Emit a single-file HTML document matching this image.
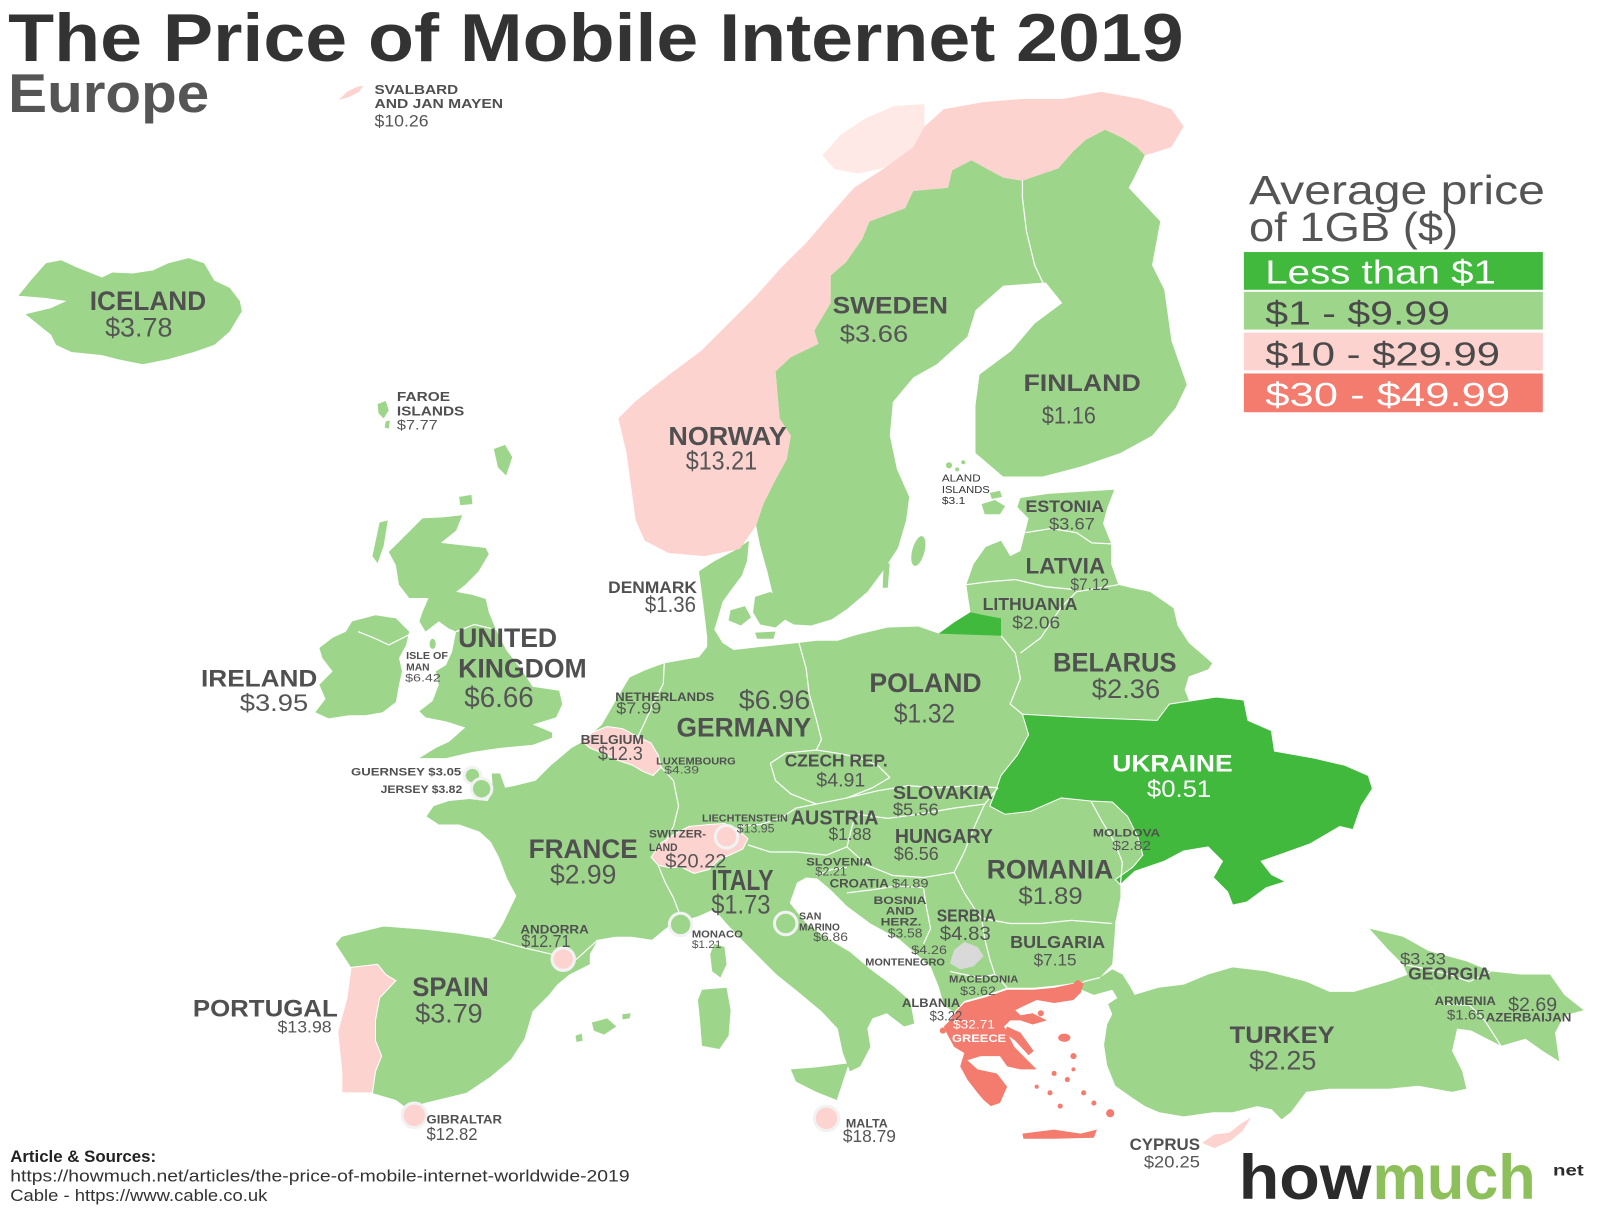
<!DOCTYPE html>
<html><head><meta charset="utf-8"><style>
html,body{margin:0;padding:0;background:#fff;}
svg{display:block;}
text{font-family:"Liberation Sans",Arial,sans-serif;}
.n{font-weight:bold;fill:#505050;}
.v{font-weight:normal;fill:#555;}
.w{fill:#fff;}
</style></head><body>
<svg width="1600" height="1209" viewBox="0 0 1600 1209" xmlns="http://www.w3.org/2000/svg">
<rect width="1600" height="1209" fill="#fff"/>
<g transform="scale(1.0204)">
<g fill="#9dd68b">
<!-- Iceland -->
<polygon points="18,290 30,275 45,258 60,255 75,262 100,272 110,267 130,268 150,265 165,258 185,253 200,258 210,275 225,282 235,295 237,305 225,325 210,338 190,345 165,352 140,357 115,352 100,348 70,345 55,338 50,328 30,312 25,308 50,302 65,295 45,292 20,290"/>
<!-- Faroe -->
<polygon points="370,396 378,393 381,402 376,410 371,405"/>
<polygon points="378,413 382,412 381,420 377,419"/>
<!-- Great Britain -->
<polygon points="414,508 434,507 453,505 447,520 432,532 476,537 479,543 469,560 456,573 447,580 463,583 476,587 479,600 486,617 496,637 510,655 522,673 548,677 551,690 545,703 522,710 541,718 541,723 522,730 489,733 463,737 437,743 411,743 427,733 440,727 456,713 437,707 417,703 411,697 424,687 430,671 427,658 437,652 443,639 447,619 440,616 430,609 417,619 411,609 414,600 420,586 401,586 391,573 388,554 381,541 391,531 404,518"/>
<polygon points="365,545 372,512 380,510 376,535 370,552"/>
<polygon points="450,487 462,485 463,494 451,495"/>
<polygon points="484,440 495,436 502,448 496,466 488,458"/>
<ellipse cx="424" cy="631" rx="3" ry="5"/>
<!-- Ireland -->
<polygon points="345,609 368,603 388,606 401,619 398,632 391,645 394,658 391,671 388,688 375,698 358,701 342,701 322,704 309,698 319,685 313,671 326,658 316,645 313,635 326,625 339,619"/>
<!-- Sweden -->
<polygon points="952,157 983,174 1002,177 1002,194 1006,227 1014,260 1022,277 983,280 956,304 948,330 918,357 895,370 875,394 872,427 879,460 891,487 888,510 880,537 865,560 850,580 830,597 815,607 795,613 778,612 765,605 758,585 752,560 745,535 741,515 748,494 760,470 771,450 775,427 764,410 760,364 775,350 802,337 798,324 814,297 814,270 829,257 845,234 852,217 887,204 895,187 929,184 933,167"/>
<ellipse cx="900" cy="540" rx="6" ry="15" transform="rotate(15 900 540)"/>
<polygon points="866,553 872,552 870,576 865,576"/>
<!-- Finland -->
<polygon points="1002,177 1037,165 1052,148 1064,137 1083,127 1100,135 1114,144 1122,152 1110,177 1106,184 1137,217 1129,260 1141,284 1148,334 1163,377 1152,400 1129,427 1098,444 1060,457 1022,467 983,467 956,444 956,397 960,367 991,344 1014,317 1041,297 1025,277 1022,277 1014,260 1006,227 1002,194"/>
<circle cx="930" cy="456" r="3"/><circle cx="938" cy="460" r="2"/><circle cx="944" cy="453" r="2"/>
<!-- Mainland -->
<polygon points="571,727 590,710 605,684 617,664 632,657 651,650 685,644 693,634 693,624 689,590 685,560 700,550 719,540 734,530 732,550 727,564 715,580 708,590 704,604 700,617 708,630 719,637 746,634 783,630 800,628 821,628 840,622 870,615 900,614 920,621 935,610 951,600 947,573 954,553 966,536 981,530 990,545 1000,540 1005,520 1008,508 997,497 1000,488 1027,484 1058,482 1092,480 1085,498 1081,513 1089,533 1089,553 1096,573 1108,576 1127,580 1150,596 1154,613 1165,630 1180,643 1188,650 1184,656 1165,663 1161,676 1165,686 1173,690 1192,683 1219,686 1223,706 1246,716 1249,736 1288,743 1318,750 1341,760 1345,773 1334,790 1326,813 1313,810 1284,827 1256,837 1236,844 1246,857 1260,864 1241,870 1222,884 1208,887 1203,874 1189,860 1198,844 1184,830 1160,834 1141,844 1112,854 1098,867 1098,880 1093,904 1092,921 1090,945 1078,958 1062,962 1033,966 1013,968 987,968 967,975 945,981 935,992 925,985 920,967 912,947 882,921 853,905 830,888 814,872 801,861 790,860 781,865 774,885 790,905 811,920 833,933 853,950 876,967 892,981 896,1003 886,1006 869,993 855,998 850,1008 853,1026 843,1045 833,1050 826,1032 821,1008 805,991 781,971 761,955 744,938 728,922 712,905 700,891 684,898 667,903 659,905 651,911 639,921 619,918 603,918 586,921 578,935 578,945 558,955 546,965 538,975 522,991 514,1018 501,1038 481,1055 457,1071 416,1081 400,1087 388,1078 364,1071 335,1071 335,1051 331,1011 340,978 344,948 329,925 335,918 376,908 416,911 450,915 481,920 485,918 493,905 506,878 497,861 489,840 481,825 470,815 450,808 430,808 418,800 425,790 440,785 460,783 478,785 483,775 482,758 490,758 495,772 505,770 525,765 540,750 552,740 560,733"/>
<!-- Danish islands -->
<polygon points="740,585 755,580 770,590 772,605 760,615 745,612 738,600"/>
<polygon points="716,598 730,594 736,605 726,613 714,608"/>
<polygon points="740,620 760,619 758,626 742,626"/>
<circle cx="812" cy="604" r="3"/>
<!-- Estonia islands -->
<polygon points="962,494 975,490 985,496 980,504 965,504"/>
<polygon points="970,483 980,481 982,487 972,489"/>
<!-- Med islands -->
<polygon points="700,925 710,928 712,945 706,958 698,952 696,935"/>
<polygon points="688,970 712,968 716,990 714,1015 705,1028 688,1025 686,1000 684,980"/>
<polygon points="775,1048 800,1046 832,1042 826,1060 820,1078 800,1070 780,1060"/>
<polygon points="580,1002 595,998 604,1006 592,1014 582,1010"/>
<polygon points="610,994 618,993 617,998 610,999"/>
<polygon points="564,1015 570,1013 571,1020 565,1021"/>
<!-- Turkey -->
<polygon points="1062,962 1078,958 1090,950 1100,955 1107,966 1112,975 1135,968 1160,965 1184,955 1208,948 1241,952 1280,962 1303,972 1327,972 1361,962 1380,955 1399,964 1413,984 1428,1008 1423,1030 1433,1050 1437,1067 1423,1070 1390,1064 1361,1067 1303,1067 1280,1070 1265,1090 1256,1097 1246,1087 1232,1084 1208,1090 1189,1090 1160,1094 1136,1090 1122,1084 1107,1074 1093,1064 1085,1044 1082,1024 1085,1004 1090,994 1086,984 1095,978 1090,970 1072,975 1060,970"/>
<!-- Caucasus -->
<polygon points="1342,910 1375,918 1400,932 1437,942 1461,952 1490,955 1519,955 1533,975 1552,990 1533,995 1524,1012 1528,1040 1512,1030 1495,1018 1471,1025 1442,1010 1428,1008 1413,984 1399,964 1380,957 1375,945 1360,930"/>
</g>
<!-- Norway -->
<polygon fill="#fdd3d0" points="623,510 614,444 606,410 622,394 656,367 687,344 714,317 741,290 764,264 791,237 814,210 837,184 868,164 895,144 906,124 925,107 964,100 1002,97 1041,97 1079,90 1118,97 1148,107 1160,124 1148,144 1130,150 1122,152 1114,144 1100,135 1083,127 1064,137 1052,148 1037,165 1002,177 983,174 952,157 933,167 929,184 895,187 887,204 852,217 845,234 829,257 814,270 814,297 798,324 802,337 775,350 760,364 764,410 775,427 771,450 760,470 748,494 741,515 725,538 690,545 655,542 632,530"/>
<polygon fill="#fdd3d0" opacity="0.5" points="806,152 824,132 848,116 876,104 906,102 906,124 895,144 868,164 842,170 818,166"/>
<polygon fill="#fdd3d0" points="332,98 340,90 350,85 356,84 352,90 342,95"/>
<!-- Portugal -->
<polygon fill="#fdd3d0" stroke="#fff" stroke-width="1" points="344,948 370,945 378,955 388,961 372,978 368,1000 368,1020 374,1035 368,1050 365,1071 335,1071 335,1051 331,1011 340,978"/>
<!-- Belgium -->
<polygon fill="#fdd3d0" stroke="#fff" stroke-width="1" points="571,727 580,718 595,712 610,714 625,722 638,728 645,740 648,752 640,760 630,756 620,750 605,745 590,738 578,733"/>
<!-- Switzerland -->
<polygon fill="#fdd3d0" stroke="#fff" stroke-width="1" points="638,840 648,826 660,818 675,810 695,808 710,807 722,812 733,822 728,832 715,838 705,842 695,852 680,856 668,850 655,850 645,848"/>
<!-- Cyprus -->
<polygon fill="#fdd3d0" points="1178,1120 1190,1112 1205,1110 1215,1102 1226,1095 1218,1108 1206,1118 1190,1125"/>
<!-- Greece -->
<g fill="#f47c6e">
<polygon points="945,983 967,977 987,970 1013,970 1033,968 1052,964 1056,960 1062,964 1059,973 1052,980 1033,983 1016,980 1003,986 995,990 1000,995 1012,993 1026,1000 1012,1004 1000,1000 990,1000 984,1006 994,1026 1007,1039 1016,1048 1000,1048 987,1045 980,1035 961,1035 948,1039 958,1048 977,1052 987,1065 980,1081 971,1084 964,1078 958,1071 948,1058 941,1045 945,1032 935,1026 928,1013 925,1006 931,1000 938,990"/>
<polygon points="1002,1111 1033,1107 1059,1111 1075,1107 1072,1115 1033,1116 1003,1116"/>
<polygon points="987,1006 1000,1012 1013,1030 1008,1034 995,1020 984,1012"/>
<ellipse cx="1043" cy="1017" rx="6" ry="4"/>
<circle cx="1020" cy="993" r="3"/><circle cx="1052" cy="1035" r="3"/><circle cx="1033" cy="1052" r="2.5"/>
<circle cx="1046" cy="1058" r="2.5"/><circle cx="1029" cy="1071" r="2.5"/><circle cx="1039" cy="1084" r="2.5"/>
<circle cx="1062" cy="1071" r="2.5"/><circle cx="1072" cy="1081" r="2.5"/><circle cx="1088" cy="1091" r="4"/>
<circle cx="1016" cy="1065" r="2"/><circle cx="1052" cy="1048" r="2"/><circle cx="924" cy="1010" r="3"/>
</g>
<!-- Ukraine -->
<polygon fill="#41b93c" stroke="#fff" stroke-width="1" points="1002,700 1058,703 1134,706 1146,690 1192,683 1219,686 1223,706 1246,716 1249,736 1288,743 1318,750 1341,760 1345,773 1334,790 1326,813 1313,810 1284,827 1256,837 1236,844 1246,857 1260,864 1241,870 1222,884 1208,887 1203,874 1189,860 1198,844 1184,830 1160,834 1141,844 1112,854 1098,867 1093,862 1110,850 1120,838 1115,820 1105,800 1090,786 1069,785 1040,782 1010,795 985,798 970,790 974,780 981,760 997,740 1008,720"/>
<!-- Kaliningrad -->
<polygon fill="#41b93c" points="920,621 935,610 951,600 965,603 981,606 981,623"/>
<!-- Kosovo -->
<polygon fill="#d9d9d9" points="935,931 945,923 958,928 964,937 954,947 941,950 931,944"/>
<!-- borders -->
<g fill="none" stroke="#fff" stroke-width="1.2" stroke-linejoin="round">
<polyline points="1002,177 1002,194 1006,227 1014,260 1022,277"/>
<polyline points="481,920 510,928 540,935 565,940 586,921"/>
<polyline points="648,752 660,765 665,790 660,810 652,825"/>
<polyline points="645,848 652,865 660,880 667,898"/>
<polyline points="651,650 650,670 640,690 630,712 625,722"/>
<polyline points="783,630 790,655 793,680 800,705 805,725 800,735"/>
<polyline points="755,748 770,738 800,735 820,738 840,742 860,750 872,762"/>
<polyline points="755,748 760,765 775,778 800,788 830,782 855,772 872,762"/>
<polyline points="722,810 745,808 765,802 780,792 800,788"/>
<polyline points="733,828 755,835 780,835 810,838 830,830"/>
<polyline points="830,830 835,810 840,795"/>
<polyline points="830,782 860,775 890,770 920,772 950,770 978,772"/>
<polyline points="840,798 870,802 900,798 935,792 965,788 978,772"/>
<polyline points="981,623 995,640 1000,665 990,690 1002,700"/>
<polyline points="1000,640 1020,625 1030,610 1040,595 1055,580 1096,573"/>
<polyline points="947,573 970,570 995,568 1025,575 1055,578"/>
<polyline points="1005,522 1030,518 1055,522 1070,532 1089,533"/>
<polyline points="965,788 955,810 945,835 935,855"/>
<polyline points="830,830 850,848 875,858 905,860 935,855"/>
<polyline points="800,858 815,852 830,850"/>
<polyline points="830,875 855,872 880,868 905,870"/>
<polyline points="905,870 908,890 912,910 905,925"/>
<polyline points="935,855 945,875 958,895 962,900"/>
<polyline points="962,900 990,905 1020,905 1050,902 1090,905"/>
<polyline points="962,900 965,920 970,940 975,955"/>
<polyline points="931,952 945,955 960,958 975,955 987,968"/>
<polyline points="1069,785 1080,805 1092,825 1100,845 1098,867"/>
<polyline points="1062,962 1078,958"/>
<polyline points="1375,945 1400,950 1420,955 1440,962 1461,952"/>
<polyline points="1413,984 1440,985 1455,1000 1471,1025"/>
<polyline points="447,619 465,612 486,617"/>
<polyline points="351,619 366,625 381,632 401,622"/>
</g>
<!-- small circles -->
<g stroke="#f2f2f2" stroke-width="3">
<circle cx="463" cy="760" r="8" fill="#9dd68b"/>
<circle cx="472" cy="773" r="10" fill="#9dd68b"/>
<circle cx="667" cy="906" r="11" fill="#9dd68b"/>
<circle cx="770" cy="905" r="11" fill="#9dd68b"/>
<circle cx="712" cy="820" r="11" fill="#fdd3d0"/>
<circle cx="552" cy="940" r="11" fill="#fdd3d0"/>
<circle cx="406" cy="1093" r="12" fill="#fdd3d0"/>
<circle cx="810" cy="1096" r="12" fill="#fdd3d0"/>
</g>

<!-- Title -->
<text x="8" y="60" font-size="66" font-weight="bold" fill="#333" textLength="1152" lengthAdjust="spacingAndGlyphs">The Price of Mobile Internet 2019</text>
<text x="8" y="110" font-size="54" font-weight="bold" fill="#555" textLength="197" lengthAdjust="spacingAndGlyphs">Europe</text>

<!-- Legend -->
<text x="1224" y="200" font-size="40" fill="#555" textLength="290" lengthAdjust="spacingAndGlyphs">Average price</text>
<text x="1224" y="236" font-size="40" fill="#555" textLength="205" lengthAdjust="spacingAndGlyphs">of 1GB ($)</text>
<rect x="1219" y="247" width="293" height="37" fill="#41b93c"/>
<rect x="1219" y="286" width="293" height="37" fill="#9dd68b"/>
<rect x="1219" y="326" width="293" height="37" fill="#fdd3d0"/>
<rect x="1219" y="366" width="293" height="38" fill="#f47c6e"/>
<text x="1240" y="278" font-size="33" fill="#fff" textLength="226" lengthAdjust="spacingAndGlyphs">Less than $1</text>
<text x="1240" y="318" font-size="33" fill="#4a4a4a" textLength="181" lengthAdjust="spacingAndGlyphs">$1 - $9.99</text>
<text x="1240" y="358" font-size="33" fill="#4a4a4a" textLength="230" lengthAdjust="spacingAndGlyphs">$10 - $29.99</text>
<text x="1240" y="398" font-size="33" fill="#fff" textLength="240" lengthAdjust="spacingAndGlyphs">$30 - $49.99</text>

<!-- Labels -->
<g>
<text class="n" x="88" y="304" font-size="26" textLength="114" lengthAdjust="spacingAndGlyphs">ICELAND</text>
<text class="v" x="103" y="330" font-size="26" textLength="66" lengthAdjust="spacingAndGlyphs">$3.78</text>
<text class="n" x="816" y="307" font-size="24" textLength="113" lengthAdjust="spacingAndGlyphs">SWEDEN</text>
<text class="v" x="823" y="335" font-size="24" textLength="67" lengthAdjust="spacingAndGlyphs">$3.66</text>
<text class="n" x="1003" y="383" font-size="24" textLength="115" lengthAdjust="spacingAndGlyphs">FINLAND</text>
<text class="v" x="1021" y="415" font-size="24" textLength="53" lengthAdjust="spacingAndGlyphs">$1.16</text>
<text class="n" x="655" y="436" font-size="25" textLength="116" lengthAdjust="spacingAndGlyphs">NORWAY</text>
<text class="v" x="672" y="460" font-size="25" textLength="70" lengthAdjust="spacingAndGlyphs">$13.21</text>
<text class="n" x="596" y="581" font-size="16" textLength="87" lengthAdjust="spacingAndGlyphs">DENMARK</text>
<text class="v" x="632" y="600" font-size="22" textLength="50" lengthAdjust="spacingAndGlyphs">$1.36</text>
<text class="n" x="449" y="634" font-size="26" textLength="97" lengthAdjust="spacingAndGlyphs">UNITED</text>
<text class="n" x="449" y="664" font-size="26" textLength="126" lengthAdjust="spacingAndGlyphs">KINGDOM</text>
<text class="v" x="455" y="693" font-size="28" textLength="68" lengthAdjust="spacingAndGlyphs">$6.66</text>
<text class="n" x="197" y="673" font-size="24" textLength="114" lengthAdjust="spacingAndGlyphs">IRELAND</text>
<text class="v" x="235" y="697" font-size="24" textLength="67" lengthAdjust="spacingAndGlyphs">$3.95</text>
<text class="n" x="398" y="646" font-size="10" textLength="41" lengthAdjust="spacingAndGlyphs">ISLE OF</text>
<text class="n" x="398" y="657" font-size="10" textLength="23" lengthAdjust="spacingAndGlyphs">MAN</text>
<text class="v" x="397" y="668" font-size="11" textLength="35" lengthAdjust="spacingAndGlyphs">$6.42</text>
<text class="n" x="603" y="687" font-size="12" textLength="97" lengthAdjust="spacingAndGlyphs">NETHERLANDS</text>
<text class="v" x="604" y="699" font-size="15" textLength="44" lengthAdjust="spacingAndGlyphs">$7.99</text>
<text class="v" x="724" y="695" font-size="26" textLength="70" lengthAdjust="spacingAndGlyphs">$6.96</text>
<text class="n" x="663" y="722" font-size="26" textLength="132" lengthAdjust="spacingAndGlyphs">GERMANY</text>
<text class="n" x="852" y="678" font-size="26" textLength="110" lengthAdjust="spacingAndGlyphs">POLAND</text>
<text class="v" x="876" y="708" font-size="26" textLength="60" lengthAdjust="spacingAndGlyphs">$1.32</text>
<text class="n" x="1032" y="658" font-size="26" textLength="121" lengthAdjust="spacingAndGlyphs">BELARUS</text>
<text class="v" x="1070" y="684" font-size="26" textLength="67" lengthAdjust="spacingAndGlyphs">$2.36</text>
<text class="n" x="963" y="598" font-size="17" textLength="93" lengthAdjust="spacingAndGlyphs">LITHUANIA</text>
<text class="v" x="992" y="616" font-size="17" textLength="47" lengthAdjust="spacingAndGlyphs">$2.06</text>
<text class="n" x="1005" y="562" font-size="22" textLength="78" lengthAdjust="spacingAndGlyphs">LATVIA</text>
<text class="v" x="1049" y="578" font-size="16" textLength="38" lengthAdjust="spacingAndGlyphs">$7.12</text>
<text class="n" x="1005" y="502" font-size="16" textLength="77" lengthAdjust="spacingAndGlyphs">ESTONIA</text>
<text class="v" x="1028" y="519" font-size="16" textLength="45" lengthAdjust="spacingAndGlyphs">$3.67</text>
<text x="923" y="472" font-size="10" fill="#333" textLength="38" lengthAdjust="spacingAndGlyphs">ALAND</text>
<text x="923" y="483" font-size="10" fill="#333" textLength="47" lengthAdjust="spacingAndGlyphs">ISLANDS</text>
<text x="923" y="494" font-size="10" fill="#333" textLength="23" lengthAdjust="spacingAndGlyphs">$3.1</text>
<text x="1090" y="756" font-size="24" font-weight="bold" fill="#fff" textLength="118" lengthAdjust="spacingAndGlyphs">UKRAINE</text>
<text class="w" x="1124" y="781" font-size="24" textLength="63" lengthAdjust="spacingAndGlyphs">$0.51</text>
<text class="n" x="569" y="729" font-size="13" textLength="62" lengthAdjust="spacingAndGlyphs">BELGIUM</text>
<text class="v" x="586" y="745" font-size="19" textLength="44" lengthAdjust="spacingAndGlyphs">$12.3</text>
<text class="n" x="643" y="749" font-size="10" textLength="78" lengthAdjust="spacingAndGlyphs">LUXEMBOURG</text>
<text class="v" x="651" y="758" font-size="11" textLength="34" lengthAdjust="spacingAndGlyphs">$4.39</text>
<text class="n" x="769" y="751" font-size="17" textLength="101" lengthAdjust="spacingAndGlyphs">CZECH REP.</text>
<text class="v" x="800" y="771" font-size="19" textLength="48" lengthAdjust="spacingAndGlyphs">$4.91</text>
<text class="n" x="875" y="783" font-size="18" textLength="98" lengthAdjust="spacingAndGlyphs">SLOVAKIA</text>
<text class="v" x="875" y="799" font-size="17" textLength="45" lengthAdjust="spacingAndGlyphs">$5.56</text>
<text class="n" x="344" y="760" font-size="11" textLength="108" lengthAdjust="spacingAndGlyphs">GUERNSEY $3.05</text>
<text class="n" x="373" y="777" font-size="11" textLength="80" lengthAdjust="spacingAndGlyphs">JERSEY $3.82</text>
<text class="n" x="688" y="805" font-size="10" textLength="84" lengthAdjust="spacingAndGlyphs">LIECHTENSTEIN</text>
<text class="v" x="722" y="816" font-size="12" textLength="37" lengthAdjust="spacingAndGlyphs">$13.95</text>
<text class="n" x="775" y="808" font-size="20" textLength="86" lengthAdjust="spacingAndGlyphs">AUSTRIA</text>
<text class="v" x="812" y="823" font-size="17" textLength="42" lengthAdjust="spacingAndGlyphs">$1.88</text>
<text class="n" x="877" y="826" font-size="20" textLength="96" lengthAdjust="spacingAndGlyphs">HUNGARY</text>
<text class="v" x="876" y="843" font-size="18" textLength="44" lengthAdjust="spacingAndGlyphs">$6.56</text>
<text class="n" x="518" y="841" font-size="26" textLength="107" lengthAdjust="spacingAndGlyphs">FRANCE</text>
<text class="v" x="539" y="866" font-size="26" textLength="65" lengthAdjust="spacingAndGlyphs">$2.99</text>
<text class="n" x="636" y="821" font-size="11" textLength="56" lengthAdjust="spacingAndGlyphs">SWITZER-</text>
<text class="n" x="636" y="834" font-size="11" textLength="28" lengthAdjust="spacingAndGlyphs">LAND</text>
<text class="v" x="652" y="850" font-size="19" textLength="60" lengthAdjust="spacingAndGlyphs">$20.22</text>
<text class="n" x="697" y="872" font-size="28" textLength="61" lengthAdjust="spacingAndGlyphs">ITALY</text>
<text class="v" x="697" y="895" font-size="26" textLength="58" lengthAdjust="spacingAndGlyphs">$1.73</text>
<text class="n" x="790" y="848" font-size="11" textLength="65" lengthAdjust="spacingAndGlyphs">SLOVENIA</text>
<text class="v" x="799" y="858" font-size="12" textLength="31" lengthAdjust="spacingAndGlyphs">$2.21</text>
<text class="n" x="813" y="870" font-size="12" textLength="58" lengthAdjust="spacingAndGlyphs">CROATIA</text>
<text class="v" x="874" y="870" font-size="12" textLength="36" lengthAdjust="spacingAndGlyphs">$4.89</text>
<text class="n" x="1071" y="820" font-size="11" textLength="66" lengthAdjust="spacingAndGlyphs">MOLDOVA</text>
<text class="v" x="1090" y="833" font-size="13" textLength="38" lengthAdjust="spacingAndGlyphs">$2.82</text>
<text class="n" x="967" y="861" font-size="26" textLength="124" lengthAdjust="spacingAndGlyphs">ROMANIA</text>
<text class="v" x="998" y="886" font-size="24" textLength="63" lengthAdjust="spacingAndGlyphs">$1.89</text>
<text class="n" x="856" y="886" font-size="11" textLength="52" lengthAdjust="spacingAndGlyphs">BOSNIA</text>
<text class="n" x="868" y="896" font-size="11" textLength="28" lengthAdjust="spacingAndGlyphs">AND</text>
<text class="n" x="863" y="907" font-size="11" textLength="40" lengthAdjust="spacingAndGlyphs">HERZ.</text>
<text class="v" x="870" y="919" font-size="13" textLength="34" lengthAdjust="spacingAndGlyphs">$3.58</text>
<text class="n" x="918" y="903" font-size="17" textLength="58" lengthAdjust="spacingAndGlyphs">SERBIA</text>
<text class="v" x="921" y="921" font-size="19" textLength="50" lengthAdjust="spacingAndGlyphs">$4.83</text>
<text class="n" x="783" y="901" font-size="10" textLength="22" lengthAdjust="spacingAndGlyphs">SAN</text>
<text class="n" x="783" y="912" font-size="10" textLength="40" lengthAdjust="spacingAndGlyphs">MARINO</text>
<text class="v" x="797" y="922" font-size="12" textLength="34" lengthAdjust="spacingAndGlyphs">$6.86</text>
<text class="n" x="678" y="919" font-size="10" textLength="50" lengthAdjust="spacingAndGlyphs">MONACO</text>
<text class="v" x="678" y="929" font-size="11" textLength="29" lengthAdjust="spacingAndGlyphs">$1.21</text>
<text class="n" x="510" y="915" font-size="12" textLength="67" lengthAdjust="spacingAndGlyphs">ANDORRA</text>
<text class="v" x="511" y="928" font-size="17" textLength="48" lengthAdjust="spacingAndGlyphs">$12.71</text>
<text class="v" x="893" y="935" font-size="12" textLength="35" lengthAdjust="spacingAndGlyphs">$4.26</text>
<text class="n" x="848" y="946" font-size="10" textLength="78" lengthAdjust="spacingAndGlyphs">MONTENEGRO</text>
<text class="n" x="990" y="929" font-size="17" textLength="93" lengthAdjust="spacingAndGlyphs">BULGARIA</text>
<text class="v" x="1013" y="946" font-size="16" textLength="42" lengthAdjust="spacingAndGlyphs">$7.15</text>
<text class="v" x="1372" y="945" font-size="16" textLength="45" lengthAdjust="spacingAndGlyphs">$3.33</text>
<text class="n" x="1380" y="960" font-size="17" textLength="81" lengthAdjust="spacingAndGlyphs">GEORGIA</text>
<text class="n" x="930" y="963" font-size="10" textLength="68" lengthAdjust="spacingAndGlyphs">MACEDONIA</text>
<text class="v" x="941" y="975" font-size="12" textLength="35" lengthAdjust="spacingAndGlyphs">$3.62</text>
<text class="n" x="404" y="976" font-size="26" textLength="75" lengthAdjust="spacingAndGlyphs">SPAIN</text>
<text class="v" x="407" y="1002" font-size="26" textLength="66" lengthAdjust="spacingAndGlyphs">$3.79</text>
<text class="n" x="189" y="996" font-size="24" textLength="142" lengthAdjust="spacingAndGlyphs">PORTUGAL</text>
<text class="v" x="272" y="1012" font-size="16" textLength="53" lengthAdjust="spacingAndGlyphs">$13.98</text>
<text class="n" x="1406" y="985" font-size="12" textLength="60" lengthAdjust="spacingAndGlyphs">ARMENIA</text>
<text class="v" x="1418" y="999" font-size="14" textLength="37" lengthAdjust="spacingAndGlyphs">$1.65</text>
<text class="v" x="1478" y="991" font-size="19" textLength="48" lengthAdjust="spacingAndGlyphs">$2.69</text>
<text class="n" x="1456" y="1001" font-size="12" textLength="84" lengthAdjust="spacingAndGlyphs">AZERBAIJAN</text>
<text class="n" x="884" y="987" font-size="12" textLength="57" lengthAdjust="spacingAndGlyphs">ALBANIA</text>
<text class="v" x="911" y="1000" font-size="14" textLength="32" lengthAdjust="spacingAndGlyphs">$3.22</text>
<text class="w" x="934" y="1008" font-size="12" textLength="41" lengthAdjust="spacingAndGlyphs">$32.71</text>
<text x="933" y="1021" font-size="11" font-weight="bold" fill="#fff" textLength="53" lengthAdjust="spacingAndGlyphs">GREECE</text>
<text class="n" x="1205" y="1022" font-size="24" textLength="103" lengthAdjust="spacingAndGlyphs">TURKEY</text>
<text class="v" x="1224" y="1048" font-size="26" textLength="66" lengthAdjust="spacingAndGlyphs">$2.25</text>
<text class="n" x="418" y="1101" font-size="12" textLength="74" lengthAdjust="spacingAndGlyphs">GIBRALTAR</text>
<text class="v" x="418" y="1117" font-size="17" textLength="50" lengthAdjust="spacingAndGlyphs">$12.82</text>
<text class="n" x="829" y="1105" font-size="12" textLength="41" lengthAdjust="spacingAndGlyphs">MALTA</text>
<text class="v" x="826" y="1119" font-size="17" textLength="52" lengthAdjust="spacingAndGlyphs">$18.79</text>
<text class="n" x="1107" y="1127" font-size="16" textLength="69" lengthAdjust="spacingAndGlyphs">CYPRUS</text>
<text class="v" x="1121" y="1144" font-size="16" textLength="55" lengthAdjust="spacingAndGlyphs">$20.25</text>
<text class="n" x="389" y="393" font-size="13" textLength="52" lengthAdjust="spacingAndGlyphs">FAROE</text>
<text class="n" x="389" y="407" font-size="13" textLength="66" lengthAdjust="spacingAndGlyphs">ISLANDS</text>
<text class="v" x="389" y="421" font-size="14" textLength="40" lengthAdjust="spacingAndGlyphs">$7.77</text>
<text class="n" x="367" y="92" font-size="13" textLength="82" lengthAdjust="spacingAndGlyphs">SVALBARD</text>
<text class="n" x="367" y="106" font-size="13" textLength="126" lengthAdjust="spacingAndGlyphs">AND JAN MAYEN</text>
<text class="v" x="367" y="124" font-size="16" textLength="53" lengthAdjust="spacingAndGlyphs">$10.26</text>
</g>

<!-- Footer -->
<text x="10" y="1139" font-size="16" font-weight="bold" fill="#222" textLength="143" lengthAdjust="spacingAndGlyphs">Article &amp; Sources:</text>
<text x="10" y="1158" font-size="16" fill="#333" textLength="607" lengthAdjust="spacingAndGlyphs">https://howmuch.net/articles/the-price-of-mobile-internet-worldwide-2019</text>
<text x="10" y="1177" font-size="16" fill="#333" textLength="252" lengthAdjust="spacingAndGlyphs">Cable - https://www.cable.co.uk</text>

<!-- Logo -->
<text x="1214" y="1175" font-size="62" font-weight="bold" fill="#2b2b2b" textLength="130" lengthAdjust="spacingAndGlyphs">how</text>
<text x="1345" y="1175" font-size="62" font-weight="bold" fill="#8dc05a" textLength="160" lengthAdjust="spacingAndGlyphs">much</text>
<text x="1522" y="1152" font-size="15" font-weight="bold" fill="#2b2b2b" textLength="30" lengthAdjust="spacingAndGlyphs">net</text>
</g>
</svg>
</body></html>
